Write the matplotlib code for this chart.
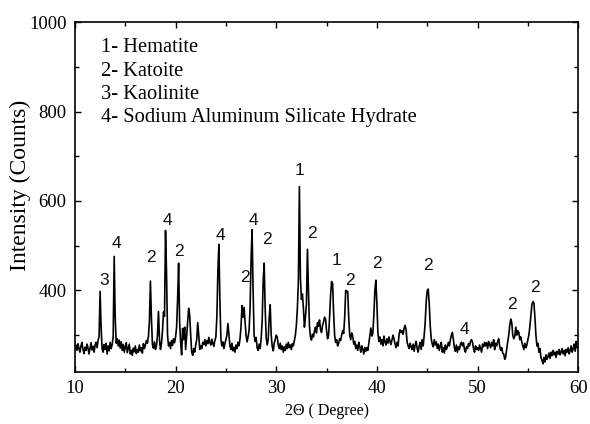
import numpy as np
import matplotlib
matplotlib.use("Agg")
import matplotlib.pyplot as plt
from matplotlib.ticker import MultipleLocator

# scan grid, 0.1 deg step
two_theta = np.round(np.arange(10.0, 60.05, 0.1), 1)

# intensity, one list per 10 degrees
int_10_20 = [272, 278, 266, 281, 270, 262, 276, 284, 268, 259,
             273, 266, 280, 271, 258, 270, 283, 267, 275, 262,
             277, 284, 272, 289, 296, 398, 318, 270, 262, 279,
             268, 282, 258, 276, 265, 284, 270, 279, 296, 476,
             340, 282, 292, 276, 289, 271, 285, 266, 279, 262,
             274, 283, 261, 270, 280, 258, 266, 255, 271, 263,
             276, 259, 268, 262, 278, 265, 272, 260, 281, 270,
             278, 288, 282, 297, 330, 421, 338, 279, 271, 285,
             268, 276, 300, 353, 290, 268, 282, 310, 352, 342,
             534, 440, 300, 276, 284, 270, 288, 277, 292, 283]
int_20_30 = [296, 318, 380, 461, 330, 285, 256, 315, 290, 318,
             268, 300, 330, 360, 345, 300, 262, 255, 270, 262,
             278, 290, 328, 300, 268, 276, 270, 284, 279, 290,
             276, 288, 281, 295, 284, 278, 291, 282, 275, 288,
             296, 340, 440, 503, 380, 292, 276, 285, 270, 281,
             290, 300, 326, 300, 276, 268, 282, 265, 273, 262,
             278, 270, 284, 276, 292, 318, 366, 340, 362, 330,
             300, 285, 296, 310, 360, 470, 536, 400, 300, 286,
             295, 272, 266, 280, 270, 292, 330, 420, 461, 360,
             295, 278, 290, 340, 368, 300, 275, 265, 282, 290]
int_30_40 = [300, 296, 278, 270, 282, 268, 276, 262, 274, 266,
             280, 270, 284, 272, 278, 268, 281, 276, 288, 300,
             322, 360, 420, 632, 430, 380, 392, 360, 318, 340,
             370, 492, 400, 320, 296, 289, 302, 296, 310, 318,
             305, 328, 320, 334, 312, 306, 322, 330, 340, 336,
             310, 292, 300, 340, 390, 420, 415, 350, 300, 284,
             290, 276, 282, 292, 288, 300, 310, 304, 340, 400,
             396, 398, 340, 300, 290, 305, 298, 280, 286, 270,
             278, 266, 284, 274, 262, 276, 268, 258, 272, 264,
             272, 266, 282, 300, 316, 298, 305, 345, 400, 423]
int_40_50 = [370, 305, 286, 296, 280, 290, 276, 298, 285, 278,
             292, 282, 296, 286, 279, 290, 300, 292, 281, 272,
             284, 276, 300, 312, 306, 310, 302, 315, 322, 312,
             285, 276, 270, 282, 274, 268, 280, 264, 278, 286,
             270, 262, 276, 284, 268, 290, 276, 300, 330, 375,
             400, 403, 370, 320, 292, 280, 274, 290, 278, 285,
             270, 280, 266, 276, 284, 262, 272, 260, 278, 268,
             274, 284, 276, 290, 300, 306, 290, 272, 264, 278,
             262, 274, 268, 280, 284, 276, 283, 268, 262, 274,
             270, 281, 276, 286, 290, 284, 270, 262, 276, 268]
int_50_60 = [272, 266, 278, 270, 262, 280, 274, 284, 276, 283,
             270, 286, 279, 272, 284, 276, 290, 268, 282, 276,
             286, 292, 276, 266, 272, 260, 258, 246, 252, 270,
             286, 300, 322, 336, 328, 300, 292, 298, 318, 300,
             310, 306, 290, 296, 284, 276, 268, 282, 272, 278,
             290, 300, 320, 345, 368, 375, 372, 340, 300, 276,
             282, 262, 270, 250, 244, 236, 250, 240, 256, 246,
             252, 260, 248, 262, 254, 266, 256, 262, 250, 264,
             258, 268, 256, 262, 270, 258, 266, 254, 268, 262,
             272, 258, 266, 276, 262, 270, 280, 264, 286, 272,
             270]
intensity = np.array(int_10_20 + int_20_30 + int_30_40 + int_40_50 + int_50_60)

# phase marks above the peaks
peak_labels = ["3", "4", "2", "4", "2", "4", "2", "4", "2", "1", "2",
               "1", "2", "2", "2", "4", "2", "2"]
peak_x = [12.9, 14.1, 17.6, 19.2, 20.3, 24.5, 26.9, 27.7, 29.1, 32.3, 33.5,
          36.0, 37.3, 40.0, 45.1, 48.7, 53.4, 55.7]
peak_y = [423, 505, 474, 557, 487, 522, 429, 557, 513, 668, 528,
          467, 423, 461, 455, 313, 368, 407]

phases = ["1- Hematite", "2- Katoite", "3- Kaolinite",
          "4- Sodium Aluminum Silicate Hydrate"]

serif = ["Liberation Serif", "DejaVu Serif"]
sans = ["Liberation Sans", "DejaVu Sans"]

fig = plt.figure(figsize=(5.9, 4.24), dpi=100)
ax = fig.add_axes([0.127, 0.123, 0.853, 0.825])
ax.plot(two_theta, intensity, color="black", lw=1.2)

for lab, x, y in zip(peak_labels, peak_x, peak_y):
    ax.text(x, y, lab, ha="center", va="center", fontsize=12.5,
            family=sans, color="#111111")

for i, s in enumerate(phases):
    ax.text(0.052, 0.927 - i * 0.067, s, transform=ax.transAxes,
            ha="left", va="center", fontsize=14.8, family=serif)

ax.set_xlim(10, 60)
ax.set_ylim(218, 1000)
ax.xaxis.set_major_locator(MultipleLocator(10))
ax.xaxis.set_minor_locator(MultipleLocator(5))
ax.yaxis.set_major_locator(MultipleLocator(200))
ax.yaxis.set_minor_locator(MultipleLocator(100))
ax.tick_params(which="both", direction="in", top=True, right=True,
               labelsize=13.5, width=1.0)
ax.tick_params(which="major", length=4.5, pad=6)
ax.tick_params(which="minor", length=3)
for lab in ax.get_xticklabels() + ax.get_yticklabels():
    lab.set_family(serif)
for sp in ax.spines.values():
    sp.set_linewidth(1.2)

ax.set_xlabel("2\u0398 ( Degree)", fontsize=11.5, family=serif, labelpad=4)
ax.set_ylabel("Intensity (Counts)", fontsize=17, family=serif)
ax.yaxis.set_label_coords(-0.087, 0.534)

fig.savefig("out.png", dpi=100)
